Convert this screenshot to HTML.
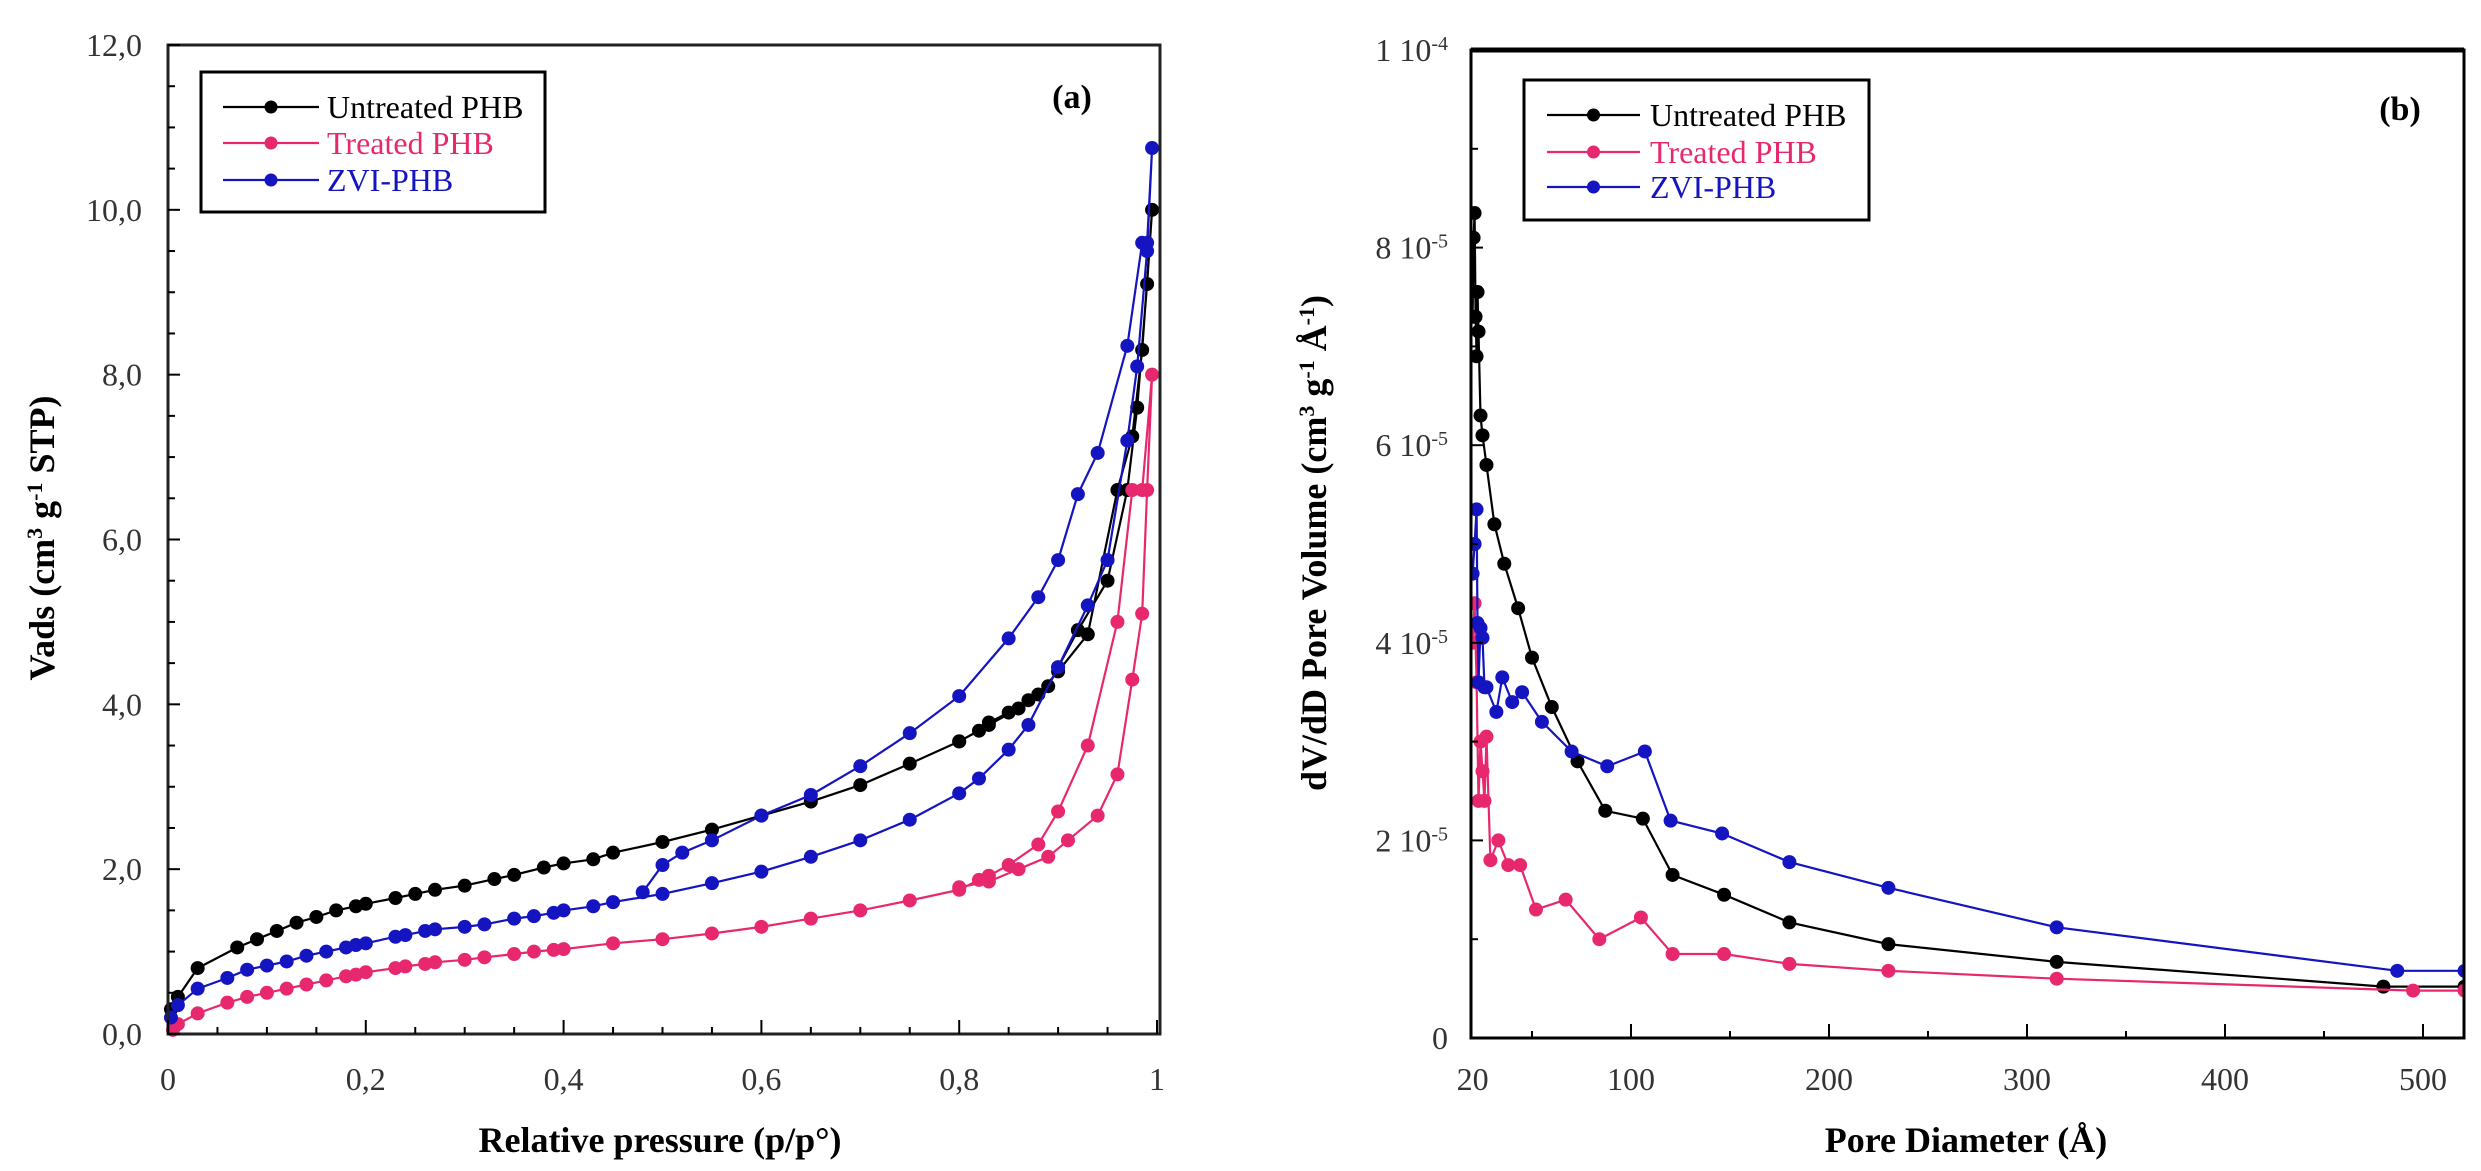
<!DOCTYPE html>
<html><head><meta charset="utf-8"><style>
html,body{margin:0;padding:0;background:#fff;}
svg{display:block;font-family:"Liberation Serif",serif;}
</style></head><body>
<svg id="fig" width="2481" height="1171" viewBox="0 0 2481 1171" xmlns="http://www.w3.org/2000/svg">
<rect width="2481" height="1171" fill="#fff"/>
<g id="pa"></g>
<g id="pb"></g>
</svg>
<script>
// ---- Panel (a) data: relative pressure vs Vads ----
const aUntreatedX = [0.003,0.01,0.03,0.07,0.09,0.11,0.13,0.15,0.17,0.19,0.2,0.23,0.25,0.27,0.3,0.33,0.35,0.38,0.4,0.43,0.45,0.5,0.55,0.6,0.65,0.7,0.75,0.8,0.82,0.83,0.85,0.87,0.89,0.9,0.92,0.95,0.97,0.98,0.99,0.995,0.985,0.975,0.96,0.93,0.9,0.88,0.86,0.83,0.8];
const aUntreatedY = [0.3,0.45,0.8,1.05,1.15,1.25,1.35,1.42,1.5,1.55,1.58,1.65,1.7,1.75,1.8,1.88,1.93,2.02,2.07,2.12,2.2,2.33,2.48,2.65,2.82,3.02,3.28,3.55,3.68,3.78,3.9,4.05,4.22,4.45,4.9,5.5,6.6,7.6,9.1,10.0,8.3,7.25,6.6,4.85,4.4,4.12,3.95,3.75,3.55];
const aTreatedX = [0.005,0.01,0.03,0.06,0.08,0.1,0.12,0.14,0.16,0.18,0.19,0.2,0.23,0.24,0.26,0.27,0.3,0.32,0.35,0.37,0.39,0.4,0.45,0.5,0.55,0.6,0.65,0.7,0.75,0.8,0.82,0.83,0.85,0.88,0.9,0.93,0.96,0.975,0.985,0.995,0.99,0.985,0.975,0.96,0.94,0.91,0.89,0.86,0.83,0.8];
const aTreatedY = [0.05,0.12,0.25,0.38,0.45,0.5,0.55,0.6,0.65,0.7,0.72,0.75,0.8,0.82,0.85,0.87,0.9,0.93,0.97,1.0,1.02,1.03,1.1,1.15,1.22,1.3,1.4,1.5,1.62,1.75,1.87,1.92,2.05,2.3,2.7,3.5,5.0,6.6,6.6,8.0,6.6,5.1,4.3,3.15,2.65,2.35,2.15,2.0,1.85,1.78];
const aZviX = [0.003,0.01,0.03,0.06,0.08,0.1,0.12,0.14,0.16,0.18,0.19,0.2,0.23,0.24,0.26,0.27,0.3,0.32,0.35,0.37,0.39,0.4,0.43,0.45,0.5,0.55,0.6,0.65,0.7,0.75,0.8,0.82,0.85,0.87,0.9,0.93,0.95,0.97,0.98,0.99,0.995,0.99,0.985,0.97,0.94,0.92,0.9,0.88,0.85,0.8,0.75,0.7,0.65,0.6,0.55,0.52,0.5,0.48];
const aZviY = [0.2,0.35,0.55,0.68,0.78,0.83,0.88,0.95,1.0,1.05,1.08,1.1,1.18,1.2,1.25,1.27,1.3,1.33,1.4,1.43,1.47,1.5,1.55,1.6,1.7,1.83,1.97,2.15,2.35,2.6,2.92,3.1,3.45,3.75,4.45,5.2,5.75,7.2,8.1,9.5,10.75,9.6,9.6,8.35,7.05,6.55,5.75,5.3,4.8,4.1,3.65,3.25,2.9,2.65,2.35,2.2,2.05,1.72];
const aXTicks = [0,0.2,0.4,0.6,0.8,1];
const aXTickLabels = ["0","0,2","0,4","0,6","0,8","1"];
const aYTicks = [0,2,4,6,8,10,12];
const aYTickLabels = ["0,0","2,0","4,0","6,0","8,0","10,0","12,0"];

// ---- Panel (b) data: pore diameter vs dV/dD (units of 1e-5) ----
const bUntreatedX = [20,20.5,21,21.5,22,22.5,23,24,25,27,31,36,43,50,60,73,87,106,121,147,180,230,315,480,521];
const bUntreatedY = [7.3,8.1,8.35,7.3,6.9,7.55,7.15,6.3,6.1,5.8,5.2,4.8,4.35,3.85,3.35,2.8,2.3,2.22,1.65,1.45,1.17,0.95,0.77,0.52,0.52];
const bTreatedX = [20,21,22,23,24,25,26,27,29,33,38,44,52,67,84,105,121,147,180,230,315,495,521];
const bTreatedY = [4.0,4.4,3.6,2.4,3.0,2.7,2.4,3.05,1.8,2.0,1.75,1.75,1.3,1.4,1.0,1.22,0.85,0.85,0.75,0.68,0.6,0.48,0.48];
const bZviX = [20,21,22,22.5,23,24,25,26,27,32,35,40,45,55,70,88,107,120,146,180,230,315,487,521];
const bZviY = [4.7,5.0,5.35,4.2,3.6,4.15,4.05,3.55,3.55,3.3,3.65,3.4,3.5,3.2,2.9,2.75,2.9,2.2,2.07,1.78,1.52,1.12,0.68,0.68];
const bXTicks = [20,100,200,300,400,500];
const bXTickLabels = ["20","100","200","300","400","500"];
const bYTicks = [0,2,4,6,8,10];
const bYTickMant = ["0","2 10","4 10","6 10","8 10","1 10"];
const bYTickExp = ["","-5","-5","-5","-5","-4"];

const NS="http://www.w3.org/2000/svg";
const BLACK="#000", PINK="#e8286e", BLUE="#1414c0";
function mk(tag,attrs,parent){const e=document.createElementNS(NS,tag);for(const k in attrs)e.setAttribute(k,attrs[k]);parent.appendChild(e);return e;}

// axis functions
const axA={x:v=>168+v*989, y:v=>1034-v*(989/12)};
const axB={x:v=>1631+(v-100)*1.98, y:v=>1038-v*98.8};

function series(g,ax,xs,ys,color,name){
  const sg=mk('g',{},g);
  
  
  const pts=xs.map((x,i)=>ax.x(x).toFixed(1)+','+ax.y(ys[i]).toFixed(1)).join(' ');
  const pl=mk('polyline',{points:pts,fill:'none',stroke:color,'stroke-width':2.2},sg);
  
  
  xs.forEach((x,i)=>{
    const c=mk('circle',{cx:ax.x(x),cy:ax.y(ys[i]),r:7,fill:color},sg);
    
    
  });
}
function text(g,x,y,s,attrs,name){
  const t=mk('text',Object.assign({x:x,y:y},attrs),g);
  t.textContent=s;
  
  
  return t;
}
function legend(g,x0,y0,w,h,lx1,lx2,tx,rows){
  const lg=mk('g',{},g);
  
  
  mk('rect',{x:x0,y:y0,width:w,height:h,fill:'#fff',stroke:'#000','stroke-width':3},lg);
  rows.forEach(r=>{
    const e=mk('g',{},lg);
    
    
    mk('line',{x1:lx1,x2:lx2,y1:r.y,y2:r.y,stroke:r.c,'stroke-width':2.2},e);
    mk('circle',{cx:(lx1+lx2)/2,cy:r.y,r:6.5,fill:r.c},e);
    text(e,tx,r.y+11,r.t,{'font-size':32,fill:r.c},'legend-label');
  });
}

// ---------- Panel A ----------
const A=document.getElementById('pa');
series(A,axA,aUntreatedX,aUntreatedY,BLACK,'series-untreated-phb');
series(A,axA,aTreatedX,aTreatedY,PINK,'series-treated-phb');
series(A,axA,aZviX,aZviY,BLUE,'series-zvi-phb');
mk('rect',{x:168,y:45,width:992,height:989,fill:'none',stroke:'#222','stroke-width':3},A);
for(let v=0;v<=12.001;v+=0.5){const y=axA.y(v);const maj=Math.abs(v%2)<1e-6;mk('line',{x1:168,x2:168+(maj?12:7),y1:y,y2:y,stroke:'#000','stroke-width':2},A);}
for(let v=0;v<=1.0001;v+=0.05){const x=axA.x(v);const maj=Math.abs((v*10)%2)<1e-6||Math.abs((v*10)%2-2)<1e-6;mk('line',{x1:x,x2:x,y1:1034,y2:1034-(maj?14:7),stroke:'#000','stroke-width':2},A);}
aYTicks.forEach((v,i)=>text(A,142,axA.y(v)+11,aYTickLabels[i],{'font-size':32,'text-anchor':'end',fill:'#333'},'y-tick-label'));
aXTicks.forEach((v,i)=>text(A,axA.x(v),1090,aXTickLabels[i],{'font-size':32,'text-anchor':'middle',fill:'#333'},'x-tick-label'));
text(A,660,1152,'Relative pressure (p/p°)',{'font-size':36,'font-weight':'bold','text-anchor':'middle'},'x-axis-title');
const ya=text(A,0,0,'',{'font-size':36,'font-weight':'bold','text-anchor':'middle',transform:'translate(54,538) rotate(-90)'},'y-axis-title');
ya.innerHTML='Vads (cm<tspan baseline-shift="super" font-size="22">3</tspan> g<tspan baseline-shift="super" font-size="22">-1</tspan> STP)';
text(A,1072,108,'(a)',{'font-size':34,'font-weight':'bold','text-anchor':'middle'},'panel-label-a');
legend(A,201,72,344,140,223,319,327,[{y:107,c:BLACK,t:'Untreated PHB'},{y:143,c:PINK,t:'Treated PHB'},{y:180,c:BLUE,t:'ZVI-PHB'}]);

// ---------- Panel B ----------
const B=document.getElementById('pb');
const clip=mk('clipPath',{id:'cb'},B);mk('rect',{x:1471,y:50,width:993,height:988},clip);
const BS=mk('g',{'clip-path':'url(#cb)'},B);


series(BS,axB,bUntreatedX,bUntreatedY,BLACK,'series-untreated-phb');
series(BS,axB,bTreatedX,bTreatedY,PINK,'series-treated-phb');
series(BS,axB,bZviX,bZviY,BLUE,'series-zvi-phb');
mk('rect',{x:1471,y:50,width:993,height:988,fill:'none',stroke:'#000','stroke-width':3},B);
mk('line',{x1:1471,x2:2464,y1:50,y2:50,stroke:'#000','stroke-width':5},B);
for(let v=0;v<=10.001;v+=1){const y=axB.y(v);const maj=Math.round(v)%2===0;mk('line',{x1:1471,x2:1471+(maj?12:7),y1:y,y2:y,stroke:'#000','stroke-width':2},B);}
for(let v=50;v<=520;v+=50){const x=axB.x(v);const maj=v%100===0;mk('line',{x1:x,x2:x,y1:1038,y2:1038-(maj?14:7),stroke:'#000','stroke-width':2},B);}
bYTicks.forEach((v,i)=>{const t=text(B,1448,axB.y(v)+11,'',{'font-size':32,'text-anchor':'end',fill:'#333'},'y-tick-label');
  t.innerHTML=bYTickMant[i]+(bYTickExp[i]?'<tspan baseline-shift="super" font-size="20">'+bYTickExp[i]+'</tspan>':'');});
bXTicks.forEach((v,i)=>text(B,axB.x(v),1090,bXTickLabels[i],{'font-size':32,'text-anchor':'middle',fill:'#333'},'x-tick-label'));
text(B,1966,1152,'Pore Diameter (Å)',{'font-size':36,'font-weight':'bold','text-anchor':'middle'},'x-axis-title');
const yb=text(B,0,0,'',{'font-size':36,'font-weight':'bold','text-anchor':'middle',transform:'translate(1326,543) rotate(-90)'},'y-axis-title');
yb.innerHTML='dV/dD Pore Volume (cm<tspan baseline-shift="super" font-size="22">3</tspan> g<tspan baseline-shift="super" font-size="22">-1</tspan> Å<tspan baseline-shift="super" font-size="22">-1</tspan>)';
text(B,2400,120,'(b)',{'font-size':34,'font-weight':'bold','text-anchor':'middle'},'panel-label-b');
legend(B,1524,80,345,140,1547,1640,1650,[{y:115,c:BLACK,t:'Untreated PHB'},{y:152,c:PINK,t:'Treated PHB'},{y:187,c:BLUE,t:'ZVI-PHB'}]);
</script>
</body></html>
